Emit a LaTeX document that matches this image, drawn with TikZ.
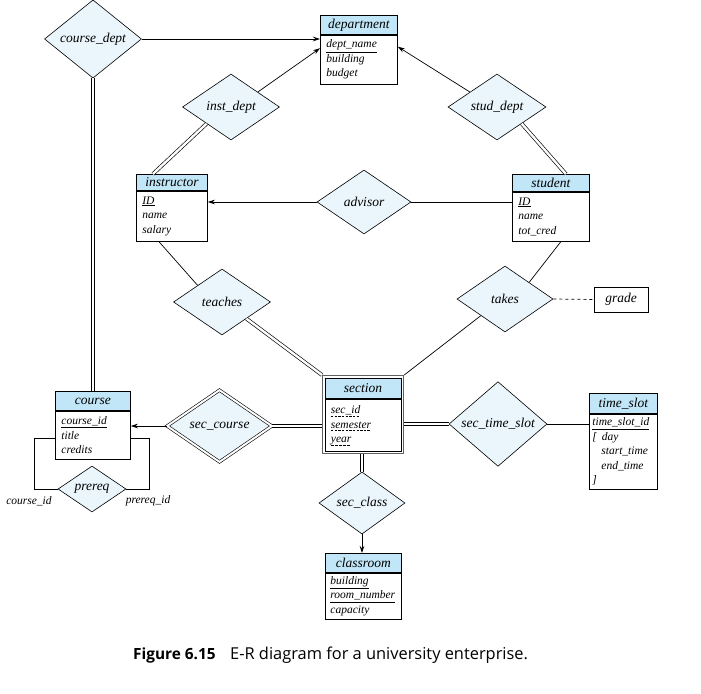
\documentclass[tikz,border=0pt]{standalone}
\usepackage{fontspec}
\setmainfont{Liberation Serif}
\newfontfamily\capfont{Open Sans}
\usetikzlibrary{shapes.geometric,arrows.meta,calc}
\definecolor{hdr}{RGB}{193,230,247}
\definecolor{dfill}{RGB}{234,246,252}
\newsavebox\dulbox
\newcommand\dul[1]{\sbox\dulbox{#1}\rlap{\lower2.2pt\hbox to \wd\dulbox{\xleaders\hbox{\vrule width 2.4pt height 0.5pt depth 0pt\kern1.2pt}\hfil}}\usebox\dulbox}
\begin{document}
\begin{tikzpicture}[x=1pt,y=-1pt,
  ehead/.style={draw, fill=hdr, inner sep=0pt, anchor=north west, font=\fontsize{13.5}{16}\selectfont\itshape, line width=0.8pt},
  ebody/.style={draw, fill=white, inner xsep=6pt, inner ysep=0pt, anchor=north west, align=left, font=\fontsize{11.5}{14.5}\selectfont\itshape, line width=0.8pt},
  rel/.style={diamond, draw, fill=dfill, inner sep=0pt, font=\fontsize{13.5}{16}\selectfont\itshape, line width=0.6pt},
  conn/.style={line width=0.7pt},
  dbl/.style={double, double distance=2.4pt, line width=0.65pt},
  arr/.style={-{Stealth[length=7pt,width=4.5pt]}, line width=0.7pt},
  lbl/.style={font=\fontsize{11.5}{14}\selectfont\itshape, inner sep=1pt},
]
\fill[white] (0,0) rectangle (701,693);
\useasboundingbox (0,0) rectangle (701,693);

% ---------- entities ----------
\node[ehead, minimum width=77, minimum height=19] (department-h) at (320,15) {department};
\node[ebody, minimum width=77, minimum height=49, text width=65] (department) at (department-h.south west) {\underline{dept\_name}\\ building\\ budget};

\node[ehead, minimum width=71, minimum height=16] (instructor-h) at (136,174) {instructor};
\node[ebody, minimum width=71, minimum height=50, text width=59] (instructor) at (instructor-h.south west) {\underline{ID}\\ name\\ salary};

\node[ehead, minimum width=77, minimum height=17] (student-h) at (512,174) {student};
\node[ebody, minimum width=77, minimum height=49, text width=65] (student) at (student-h.south west) {\underline{ID}\\ name\\ tot\_cred};

\node[ehead, minimum width=75, minimum height=19] (course-h) at (55,391) {course};
\node[ebody, minimum width=75, minimum height=48, text width=63] (course) at (course-h.south west) {\underline{course\_id}\\ title\\ credits};

\node[ehead, minimum width=68, minimum height=20] (time_slot-h) at (589,393) {time\_slot};
\node[ebody, minimum width=68, minimum height=75, text width=62, inner xsep=3pt] (time_slot) at (time_slot-h.south west) {\underline{time\_slot\_id}\\ {[}\hspace{5pt}day\\ \hspace{9pt}start\_time\\ \hspace{9pt}end\_time\\ {]}};

\node[ehead, minimum width=76, minimum height=19] (classroom-h) at (325,553) {classroom};
\node[ebody, minimum width=76, minimum height=46, text width=66, inner xsep=5pt] (classroom) at (classroom-h.south west) {\underline{building}\\ \underline{room\_number}\\ capacity};

% weak entity section (double border)
\node[draw=gray!75!black, line width=1.2pt, anchor=north west, minimum width=81, minimum height=78, inner sep=0pt] (section) at (322,375) {};
\node[ehead, minimum width=76, minimum height=20.5] (section-h) at (324.5,377.5) {section};
\node[draw, fill=white, inner sep=0pt, anchor=north west, line width=0.8pt, minimum width=76, minimum height=52.5, font=\fontsize{11.5}{14.5}\selectfont\itshape] (section-b) at (section-h.south west) {\makebox[64pt][l]{\begin{tabular}{@{}l@{}}\dul{sec\_id}\\ \dul{semester}\\ \dul{year}\end{tabular}}};

% attribute
\node[draw, line width=0.8pt, minimum width=54, minimum height=25, inner sep=0pt, font=\fontsize{13.5}{16}\selectfont\itshape] (grade) at (621,299.5) {grade};

% ---------- relationships ----------
\node[rel, minimum width=97, minimum height=67] (course_dept) at (93,39) {course\_dept};
\node[rel, minimum width=97, minimum height=66] (inst_dept) at (231,107) {inst\_dept};
\node[rel, minimum width=98, minimum height=66] (stud_dept) at (497,107) {stud\_dept};
\node[rel, minimum width=94, minimum height=64] (advisor) at (364,202) {advisor};
\node[rel, minimum width=97, minimum height=66] (teaches) at (222,302) {teaches};
\node[rel, minimum width=96, minimum height=66] (takes) at (505,299) {takes};
\node[rel, double, double distance=2pt, minimum width=105, minimum height=72] (sec_course) at (219.5,426) {sec\_course};
\node[rel, minimum width=98, minimum height=66] (sec_time_slot) at (498,424) {sec\_time\_slot};
\node[rel, minimum width=86, minimum height=58] (sec_class) at (362,503) {sec\_class};
\node[rel, minimum width=68, minimum height=46] (prereq) at (92,489) {prereq};

% ---------- connectors ----------
\draw[arr] (course_dept.east) -- (course_dept.east -| department.west);
\draw[dbl] (course_dept.south) -- (course_dept.south |- course-h.north);
\draw[arr] ($(inst_dept.north)!0.55!(inst_dept.east)$) -- ([yshift=11.5pt]department.west);
\draw[arr] ($(stud_dept.north)!0.55!(stud_dept.west)$) -- ([yshift=13pt]department.east);
\draw[dbl] ($(inst_dept.west)!0.5!(inst_dept.south)$) -- ([xshift=-19pt]instructor-h.north);
\draw[dbl] ($(stud_dept.east)!0.5!(stud_dept.south)$) -- ([xshift=15pt]student-h.north);
\draw[arr] (advisor.west) -- (advisor.west -| instructor.east);
\draw[conn] (advisor.east) -- (advisor.east -| student.west);
\draw[conn] ($(teaches.north)!0.5!(teaches.west)$) -- ([xshift=-13pt]instructor.south);
\draw[dbl] ($(teaches.south)!0.5!(teaches.east)$) -- (section.north west);
\draw[conn] ($(takes.north)!0.5!(takes.east)$) -- ([xshift=10pt]student.south);
\draw[conn] ($(takes.south)!0.5!(takes.west)$) -- (section.north east);
\draw[conn, dashed] (takes.east) -- (grade.west);
\draw[arr] (sec_course.west) -- (sec_course.west -| course.east);
\draw[dbl] (sec_course.east) -- (sec_course.east -| section.west);
\draw[dbl] (section.east |- sec_time_slot.west) -- (sec_time_slot.west);
\draw[conn] (sec_time_slot.east) -- (sec_time_slot.east -| time_slot.west);
\draw[dbl] (section.south -| sec_class.north) -- (sec_class.north);
\draw[arr] (sec_class.south) -- (sec_class.south |- classroom-h.north);
\draw[conn] ([yshift=-3pt]course.west) -- ++(-21,0) |- (prereq.west);
\draw[conn] ([yshift=-3pt]course.east) -- ++(19,0) |- (prereq.east);
\node[lbl] (cid) at (29,501) {course\_id};
\node[lbl] (pid) at (148,501) {prereq\_id};

% ---------- caption ----------
\node[anchor=base west, inner sep=0pt, font=\capfont\bfseries\fontsize{15.4}{19}\selectfont] (figlabel) at (133,659) {Figure 6.15};
\node[anchor=base west, inner sep=0pt, font=\capfont\fontsize{16.4}{19}\selectfont] (figtext) at (230,659) {E-R diagram for a university enterprise.};
\end{tikzpicture}
\end{document}
